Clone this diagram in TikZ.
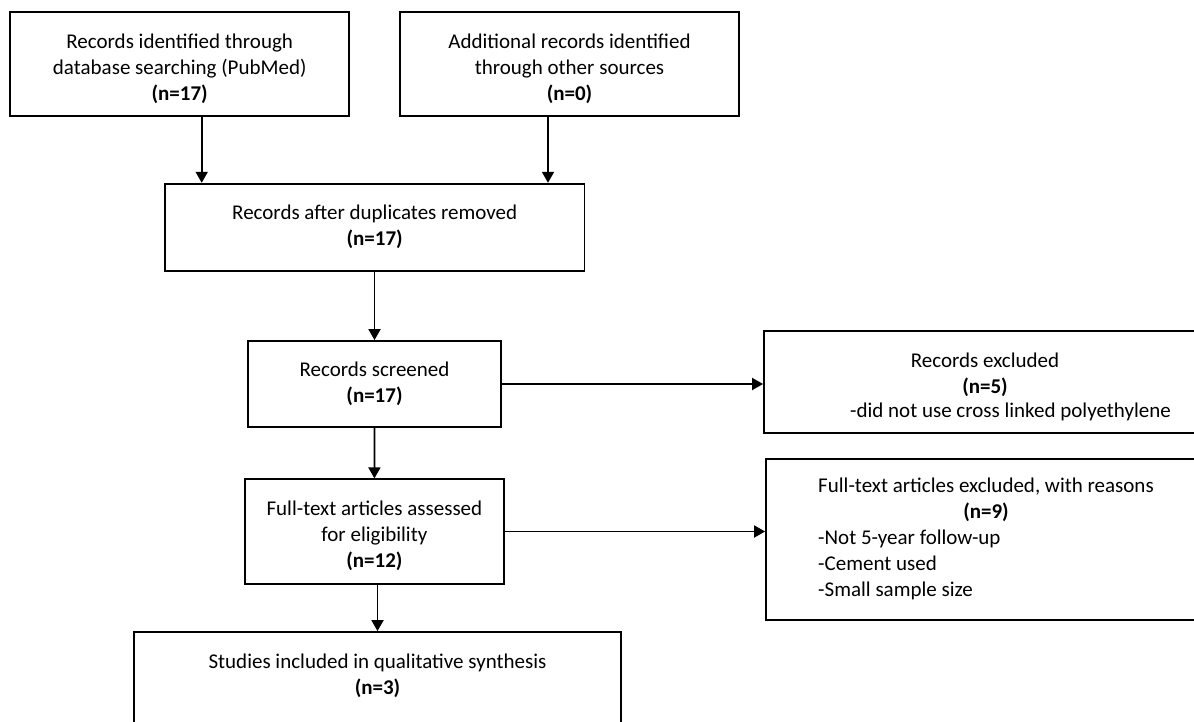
\documentclass[tikz,border=0pt]{standalone}
\usepackage{fontspec}
\setmainfont{Carlito}
\usetikzlibrary{arrows.meta}
% a taller first line, which sets the text a little lower in its box
\newcommand{\pushdown}{\rule{0pt}{24pt}}

\begin{document}
\begin{tikzpicture}[x=1pt,y=-1pt,
    box/.style={draw,line width=1.8pt,inner sep=0pt,align=center,
        font=\fontsize{21}{26}\selectfont},
    arrow/.style={line width=1.8pt,-{Triangle[length=11pt,width=12pt]}}]
    \useasboundingbox (0,0) rectangle (1194,721);
    \clip (0,0) rectangle (1194,721);
    % Identification
    \node[box,minimum width=338.7,minimum height=104] (ident) at (179.7,63.7)
        {\pushdown Records identified through\\database searching (PubMed)\\\textbf{(n=17)}};
    \node[box,minimum width=338.3,minimum height=104] (other) at (569.5,63.7)
        {\pushdown Additional records identified\\through other sources\\\textbf{(n=0)}};
    \node[box,minimum width=419.4,minimum height=87] (dupl) at (374.7,227.2)
        {Records after duplicates removed\\\textbf{(n=17)}};
    % Screening
    \node[box,minimum width=253,minimum height=86] (screen) at (374.5,384)
        {Records screened\\\textbf{(n=17)}};
    \node[box,minimum width=442,minimum height=102] (excl) at (985,381.7)
        {\pushdown Records excluded\\\textbf{(n=5)}\\[-2pt]\hspace*{51pt}-did not use cross linked polyethylene};
    % Eligibility
    \node[box,minimum width=259.4,minimum height=104.4] (elig) at (374.4,531.5)
        {\pushdown Full-text articles assessed\\for eligibility\\\textbf{(n=12)}};
    \node[box,minimum width=440,minimum height=161.3] (ftexcl) at (986,539.7)
        {\begin{tabular}{@{}l@{}}
            Full-text articles excluded, with reasons\\
            \multicolumn{1}{@{}c@{}}{\textbf{(n=9)}}\\
            -Not 5-year follow-up\\
            -Cement used\\
            -Small sample size
        \end{tabular}};
    % Included
    \node[box,minimum width=487.5,minimum height=110] (incl) at (377.5,687)
        {Studies included in qualitative synthesis\\\textbf{(n=3)}\\\mbox{}};
    % Draw arrows
    \draw[arrow] ([xshift=22pt]ident.south) -- ([xshift=22pt]ident.south |- dupl.north);
    \draw[arrow] ([xshift=-21.5pt]other.south) -- ([xshift=-21.5pt]other.south |- dupl.north);
    \draw[arrow] (dupl.south -| screen.north) -- (screen.north);
    \draw[arrow] (screen.east) -- (screen.east -| excl.west);
    \draw[arrow] (screen.south) -- (elig.north);
    \draw[arrow] (elig.east) -- (elig.east -| ftexcl.west);
    \draw[arrow] (elig.south -| incl.north) -- (incl.north);
\end{tikzpicture}
\end{document}
